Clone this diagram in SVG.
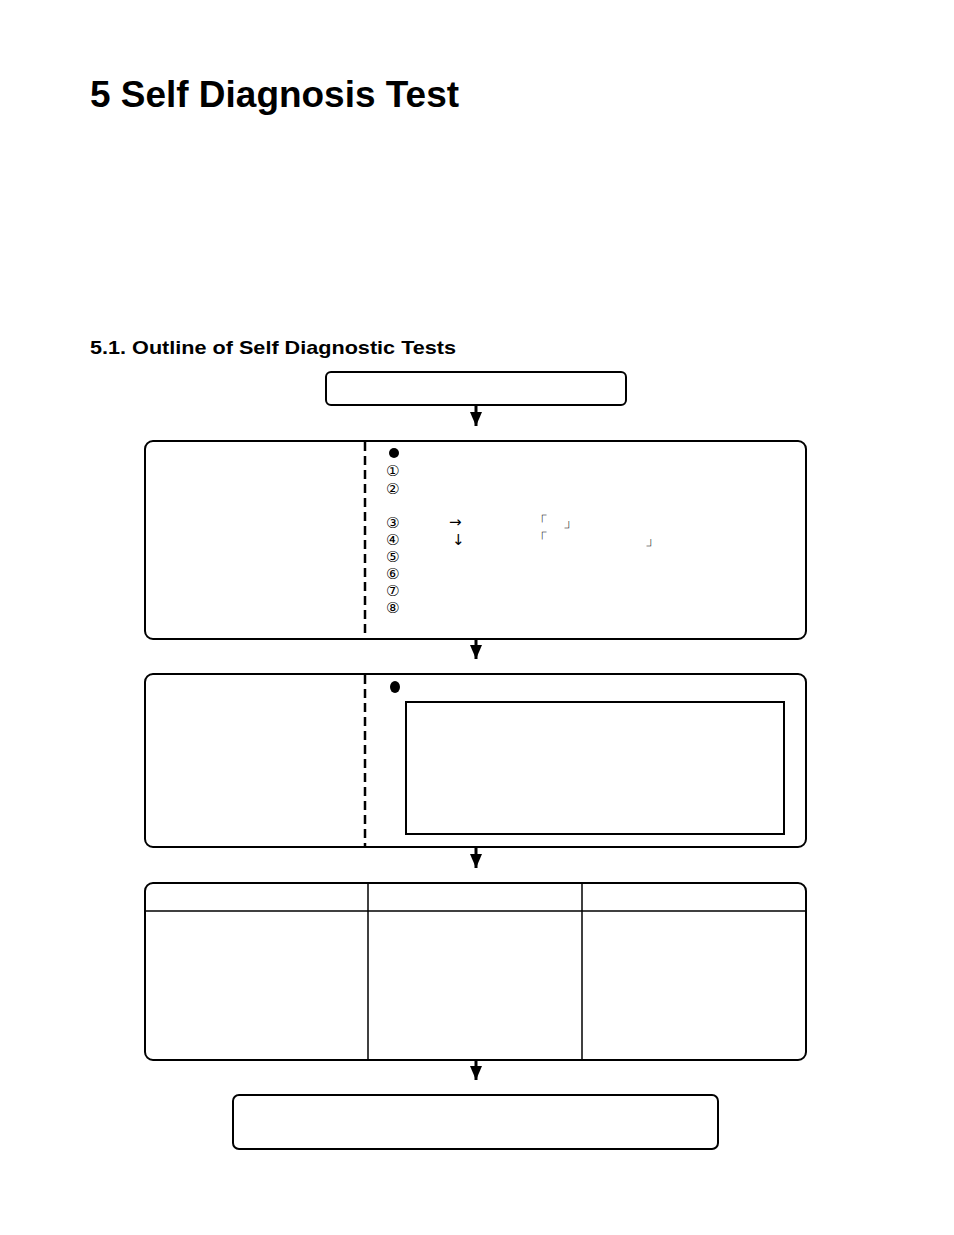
<svg xmlns="http://www.w3.org/2000/svg" width="954" height="1235" viewBox="0 0 954 1235">
<style>
.b{fill:#fff;stroke:#000;stroke-width:2}
.t{font-family:"Liberation Sans",sans-serif;fill:#000}
.s{font-family:"DejaVu Sans",sans-serif;font-size:15px;fill:#000}
.d{stroke:#000;stroke-width:2.5;stroke-dasharray:9,5}
.c{stroke:#000;stroke-width:3;fill:none}
</style>
<defs>
<marker id="ah" viewBox="0 0 12 14" refX="6" refY="14" markerWidth="12" markerHeight="14" markerUnits="userSpaceOnUse" orient="0"><path d="M0,0 L12,0 L6,14 Z"/></marker></defs>
<rect width="954" height="1235" fill="#fff"/>
<text class="t" x="90" y="107" font-size="36" font-weight="bold" textLength="369" lengthAdjust="spacingAndGlyphs">5 Self Diagnosis Test</text>
<text class="t" x="90" y="354" font-size="19" font-weight="bold" textLength="366" lengthAdjust="spacingAndGlyphs">5.1. Outline of Self Diagnostic Tests</text>
<g id="connectors">
<line class="c" x1="476" y1="405" x2="476" y2="426" marker-end="url(#ah)"/>
<line class="c" x1="476" y1="639" x2="476" y2="659" marker-end="url(#ah)"/>
<line class="c" x1="476" y1="847" x2="476" y2="868" marker-end="url(#ah)"/>
<line class="c" x1="476" y1="1060" x2="476" y2="1080" marker-end="url(#ah)"/>
</g>
<g id="n1"><rect class="b" x="326" y="372" width="300" height="33" rx="5"/></g>
<g id="n2"><rect class="b" x="145" y="441" width="661" height="198" rx="8"/>
<line class="d" x1="365" y1="442" x2="365" y2="638"/>
<circle cx="394" cy="453" r="5"/>
<text class="s" x="386" y="476">①</text><text class="s" x="386" y="494">②</text>
<text class="s" x="386" y="528">③</text><text class="s" x="449" y="527">→</text><text class="s" x="533" y="527">「</text><text class="s" x="563" y="527">」</text>
<text class="s" x="386" y="545">④</text><text class="s" x="452" y="545">↓</text><text class="s" x="533" y="544">「</text><text class="s" x="645" y="545">」</text>
<text class="s" x="386" y="562">⑤</text><text class="s" x="386" y="579">⑥</text><text class="s" x="386" y="596">⑦</text><text class="s" x="386" y="613">⑧</text>
</g>
<g id="n3"><rect class="b" x="145" y="674" width="661" height="173" rx="8"/>
<line class="d" x1="365" y1="675" x2="365" y2="846"/>
<ellipse cx="395" cy="687" rx="5" ry="6"/>
<rect class="b" x="406" y="702" width="378" height="132"/>
</g>
<g id="n4"><rect class="b" x="145" y="883" width="661" height="177" rx="8"/>
<line x1="145" y1="911" x2="806" y2="911" stroke="#000" stroke-width="1.5"/>
<line x1="368" y1="883" x2="368" y2="1060" stroke="#000" stroke-width="1.5"/>
<line x1="582" y1="883" x2="582" y2="1060" stroke="#000" stroke-width="1.5"/>
</g>
<g id="n5"><rect class="b" x="233" y="1095" width="485" height="54" rx="6"/></g>
</svg>
